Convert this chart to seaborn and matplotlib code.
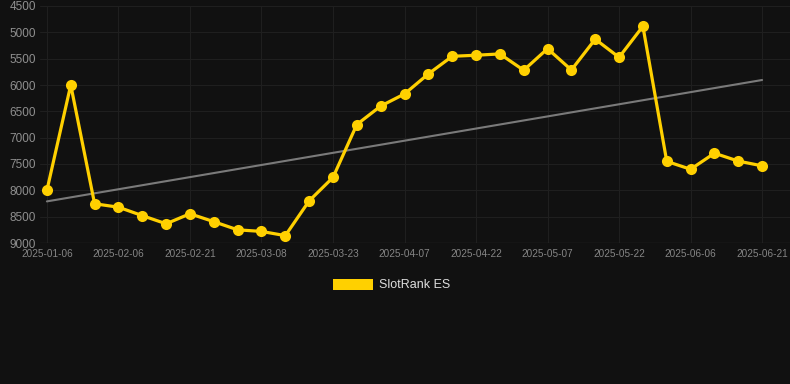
import numpy as np
import pandas as pd
import matplotlib
matplotlib.use("Agg")
import matplotlib.pyplot as plt
import seaborn as sns
from matplotlib.patches import Patch

# --- datos ---
fechas = ["2025-01-06", "2025-01-17", "2025-01-27", "2025-02-06", "2025-02-11",
          "2025-02-16", "2025-02-21", "2025-02-26", "2025-03-03", "2025-03-08",
          "2025-03-13", "2025-03-18", "2025-03-23", "2025-03-28", "2025-04-02",
          "2025-04-07", "2025-04-12", "2025-04-17", "2025-04-22", "2025-04-27",
          "2025-05-02", "2025-05-07", "2025-05-12", "2025-05-17", "2025-05-22",
          "2025-05-27", "2025-06-01", "2025-06-06", "2025-06-11", "2025-06-16",
          "2025-06-21"]
rango = [8000, 6000, 8255, 8320, 8480, 8635, 8445, 8595, 8750, 8780,
         8860, 8200, 7755, 6750, 6400, 6170, 5790, 5455, 5435, 5410,
         5720, 5310, 5715, 5130, 5475, 4885, 7450, 7600, 7295, 7445,
         7535]
tendencia_ini = 8210
tendencia_fin = 5905
yticks = [4500, 5000, 5500, 6000, 6500, 7000, 7500, 8000, 8500, 9000]

fondo = "#111111"
amarillo = "#FFD000"

df = pd.DataFrame({"pos": np.arange(len(fechas)), "fecha": fechas, "rango": rango})
df_tend = pd.DataFrame({"pos": [0, len(fechas) - 1], "rango": [tendencia_ini, tendencia_fin]})

sns.set_style("dark")
plt.rcParams["font.family"] = ["Liberation Sans", "DejaVu Sans"]

fig = plt.figure(figsize=(7.9, 3.84), dpi=100, facecolor=fondo)
ax = fig.add_axes([40 / 790, 141 / 384, 750 / 790, 237 / 384])
ax.set_facecolor(fondo)

# linea de tendencia
sns.lineplot(data=df_tend, x="pos", y="rango", ax=ax, color="#7a7a7a", linewidth=1.5, zorder=2)
# serie principal
sns.lineplot(data=df, x="pos", y="rango", ax=ax, color=amarillo, linewidth=2.3,
             marker="o", markersize=8, markeredgewidth=0, zorder=3)

ax.set_ylim(9000, 4500)
ax.set_xlim(-0.29, 31.17)
ax.set_yticks(yticks)
ax.set_yticklabels([str(v) for v in yticks], color="#8f8f8f", fontsize=8.5)
ticks_x = df["pos"][::3]
ax.set_xticks(ticks_x)
ax.set_xticklabels(df["fecha"][::3], color="#858585", fontsize=7.2)
ax.tick_params(axis="both", length=0)
ax.tick_params(axis="x", pad=4)
ax.tick_params(axis="y", pad=3)
ax.grid(True, color="#1f1f1f", linewidth=0.8)
for s in ax.spines.values():
    s.set_visible(False)
ax.axhline(9000, color="#2a2a2a", linewidth=1, zorder=1)
ax.set_xlabel("")
ax.set_ylabel("")

fig.legend(handles=[Patch(facecolor=amarillo, edgecolor="none", label="SlotRank ES")],
           loc="center", bbox_to_anchor=(392 / 790, 1 - 285 / 384), frameon=False,
           fontsize=9, labelcolor="#dddddd", handlelength=3.2, handleheight=0.96,
           handletextpad=0.48)

fig.savefig("out.png", dpi=100, facecolor=fondo)
